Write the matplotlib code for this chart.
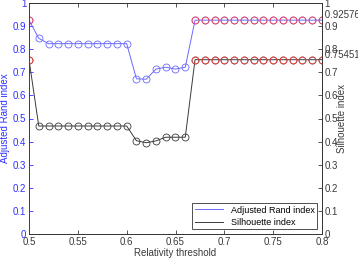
import numpy as np
import matplotlib
matplotlib.use("Agg")
import matplotlib.pyplot as plt

plt.rcParams['font.family'] = ['Liberation Sans', 'DejaVu Sans']

# data
thr = [0.50, 0.51, 0.52, 0.53, 0.54, 0.55, 0.56, 0.57, 0.58, 0.59, 0.60,
       0.61, 0.62, 0.63, 0.64, 0.65, 0.66, 0.67, 0.68, 0.69, 0.70, 0.71,
       0.72, 0.73, 0.74, 0.75, 0.76, 0.77, 0.78, 0.79, 0.80]
ari = [0.92576, 0.847, 0.824, 0.824, 0.824, 0.824, 0.824, 0.824, 0.824, 0.824, 0.824,
       0.672, 0.670, 0.714, 0.722, 0.714, 0.722, 0.92576, 0.92576, 0.92576, 0.92576, 0.92576,
       0.92576, 0.92576, 0.92576, 0.92576, 0.92576, 0.92576, 0.92576, 0.92576, 0.92576]
sil = [0.75451, 0.4675, 0.4675, 0.4675, 0.4675, 0.4675, 0.4675, 0.4675, 0.4675, 0.4675, 0.4675,
       0.404, 0.395, 0.403, 0.419, 0.419, 0.419, 0.75451, 0.75451, 0.75451, 0.75451, 0.75451,
       0.75451, 0.75451, 0.75451, 0.75451, 0.75451, 0.75451, 0.75451, 0.75451, 0.75451]
ari_max = 0.92576
sil_max = 0.75451

thr = np.array(thr)
ari = np.array(ari)
sil = np.array(sil)

blue = '#3030ff'
lblue = '#6a6aff'
dark = '#3a3a3a'
fs = 7

fig = plt.figure(figsize=(3.58, 2.58), dpi=100)
ax = fig.add_axes([29/358, 24/258, 293/358, 231/258])
ax2 = ax.twinx()

l1, = ax.plot(thr, ari, '-o', color=lblue, lw=0.7, ms=5, mfc='none', mew=0.6,
              label='Adjusted Rand index')
l2, = ax2.plot(thr, sil, '-o', color=dark, lw=0.7, ms=5, mfc='none', mew=0.6,
               label='Silhouette index')
m1 = np.isclose(ari, ari_max)
m2 = np.isclose(sil, sil_max)
ax.plot(thr[m1], ari[m1], 'o', color='#ff4040', ms=5, mfc='none', mew=0.6)
ax2.plot(thr[m2], sil[m2], 'o', color='#ff4040', ms=5, mfc='none', mew=0.6)

for a in (ax, ax2):
    a.set_xlim(0.5, 0.8)
    a.set_ylim(0, 1)
    a.set_yticks(np.arange(0, 1.01, 0.1))
ax.set_xticks(np.arange(0.5, 0.801, 0.05))
ax.set_xticklabels(['0.5', '0.55', '0.6', '0.65', '0.7', '0.75', '0.8'])
ax.set_yticklabels(['0', '0.1', '0.2', '0.3', '0.4', '0.5', '0.6', '0.7', '0.8', '0.9', '1'])
ax2.set_yticklabels(['0', '0.1', '0.2', '0.3', '0.4', '0.5', '0.6', '0.7', '0.8', '0.9', '1'])

ax.tick_params(axis='x', direction='in', top=True, labelsize=fs, colors=dark,
               length=3, width=0.6, pad=2)
ax.tick_params(axis='y', direction='in', labelsize=fs, colors=blue,
               length=3, width=0.6, pad=2)
ax2.tick_params(axis='y', direction='in', labelsize=fs, colors=dark,
                length=3, width=0.6, pad=2)

for s in ax2.spines.values():
    s.set_linewidth(0.6)
    s.set_color(dark)
ax2.spines['left'].set_color(blue)
for s in ax.spines.values():
    s.set_linewidth(0.6)

ax2.text(0.8, ari_max, ' 0.92576', fontsize=fs, color=dark, va='bottom', ha='left')
ax2.text(0.8, sil_max, ' 0.75451', fontsize=fs, color=dark, va='bottom', ha='left')

ax.set_xlabel('Relativity threshold', fontsize=fs, color=dark, labelpad=1)
ax.set_ylabel('Adjusted Rand index', fontsize=fs, color=blue, labelpad=2)
ax2.set_ylabel('Silhouette index', fontsize=fs, color=dark, labelpad=-1)

leg = ax2.legend([l1, l2], ['Adjusted Rand index', 'Silhouette index'],
                 loc='lower right', fontsize=6.5, frameon=True, fancybox=False,
                 handlelength=3.1, borderaxespad=0.5, labelspacing=0.35,
                 handletextpad=0.9, borderpad=0.3)
for h in leg.legend_handles:
    h.set_marker('')
leg.get_frame().set_edgecolor('black')
leg.get_frame().set_linewidth(0.6)

fig.savefig('out.png', dpi=100)
